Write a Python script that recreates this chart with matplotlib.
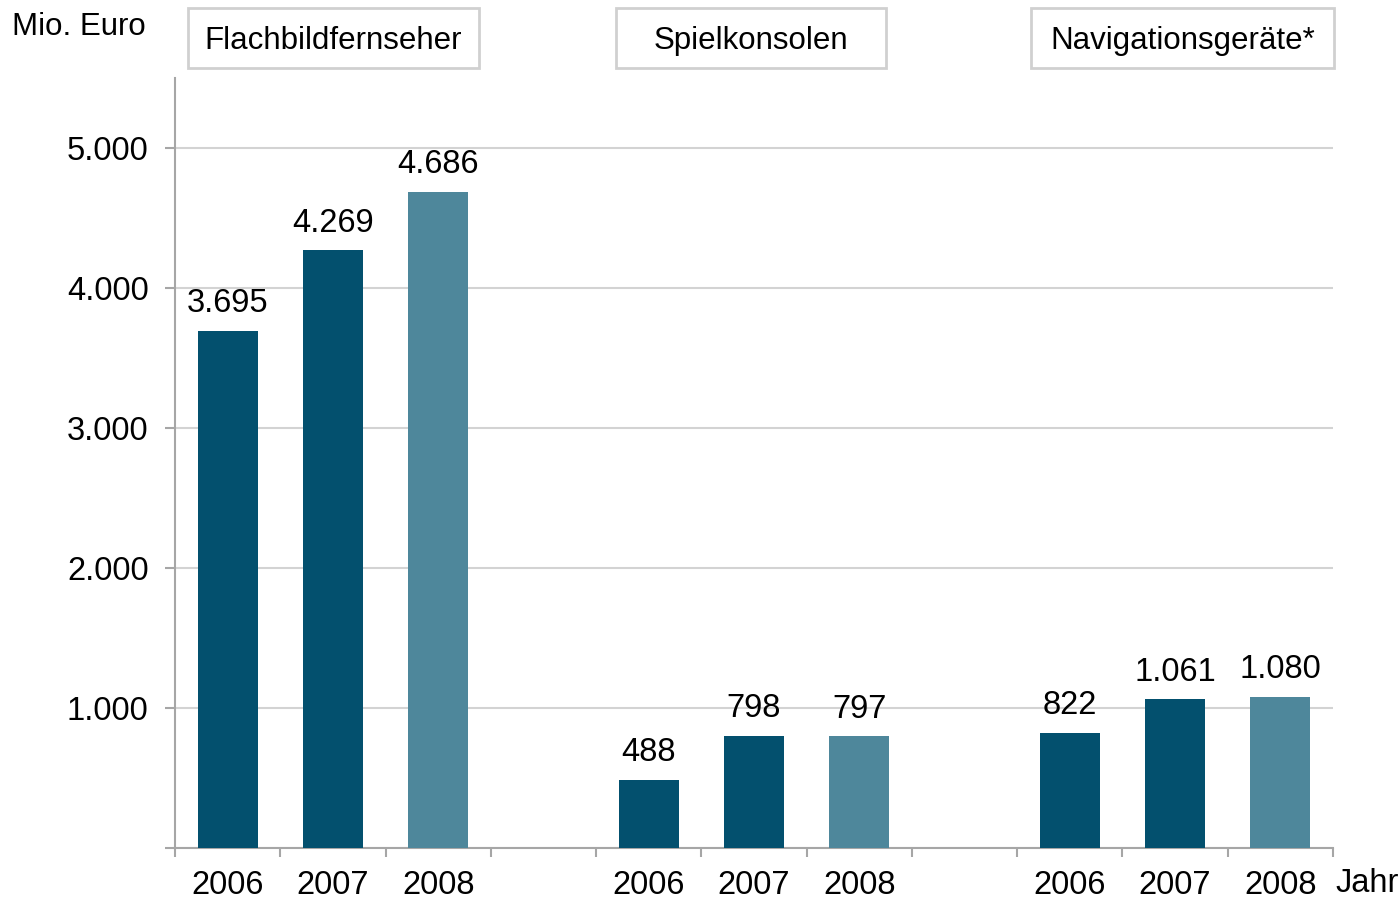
import matplotlib.pyplot as plt
from matplotlib.patches import Rectangle

plt.rcParams['font.family'] = ['Liberation Sans', 'DejaVu Sans']

groups = ['Flachbildfernseher', 'Spielkonsolen', 'Navigationsgeräte*']
years = ['2006', '2007', '2008']
flach = [3695, 4269, 4686]
spiel = [488, 798, 797]
navi = [822, 1061, 1080]
yticks = [1000, 2000, 3000, 4000, 5000]
ytick_labels = ['1.000', '2.000', '3.000', '4.000', '5.000']

dark = '#03506e'
light = '#4e879b'
grid_c = '#d3d3d3'
axis_c = '#a6a6a6'
fs = 23.5

W, H = 1399, 900
fig = plt.figure(figsize=(W / 100, H / 100), dpi=100)
ax = fig.add_axes([175 / W, 1 - 848 / H, (1333 - 175) / W, (848 - 78) / H])

def fmt(v):
    return f'{v:,}'.replace(',', '.')

for g, vals in enumerate([flach, spiel, navi]):
    for i, v in enumerate(vals):
        x = g * 4 + i
        c = light if i == 2 else dark
        ax.bar(x, v, width=0.57, color=c, zorder=3)
        ax.text(x, v + 195, fmt(v), ha='center', va='center', fontsize=fs, zorder=4)
        ax.text(x, -270, years[i], ha='center', va='center', fontsize=fs)

ax.set_xlim(-0.5, 10.5)
ax.set_ylim(0, 5500)
ax.set_xticks([k - 0.5 for k in range(12)])
ax.set_xticklabels([])
ax.set_yticks([0] + yticks)
ax.set_yticklabels([''] + ytick_labels, fontsize=fs)
ax.tick_params(axis='x', direction='out', length=6.5, width=1.5, color=axis_c)
ax.tick_params(axis='y', direction='out', length=7, width=1.5, color=axis_c, pad=12)
ax.grid(axis='y', color=grid_c, linewidth=1.5, zorder=0)
for s in ['top', 'right']:
    ax.spines[s].set_visible(False)
for s in ['left', 'bottom']:
    ax.spines[s].set_color(axis_c)
    ax.spines[s].set_linewidth(1.5)

fig.text(12 / W, 1 - 27 / H, 'Mio. Euro', fontsize=22.5, va='center', ha='left')
fig.text(1335 / W, 1 - 883 / H, 'Jahr', fontsize=fs, va='center', ha='left')

boxes = [(188, 479), (616, 886), (1031, 1334)]
for name, (x0, x1) in zip(groups, boxes):
    fig.patches.append(Rectangle((x0 / W, 1 - 68 / H), (x1 - x0) / W, 60 / H,
                                 transform=fig.transFigure, facecolor='white',
                                 edgecolor='#d0d0d0', linewidth=2))
    fig.text((x0 + x1) / 2 / W, 1 - 41 / H, name, fontsize=22.5, ha='center', va='center')

fig.savefig('out.png', dpi=100)
